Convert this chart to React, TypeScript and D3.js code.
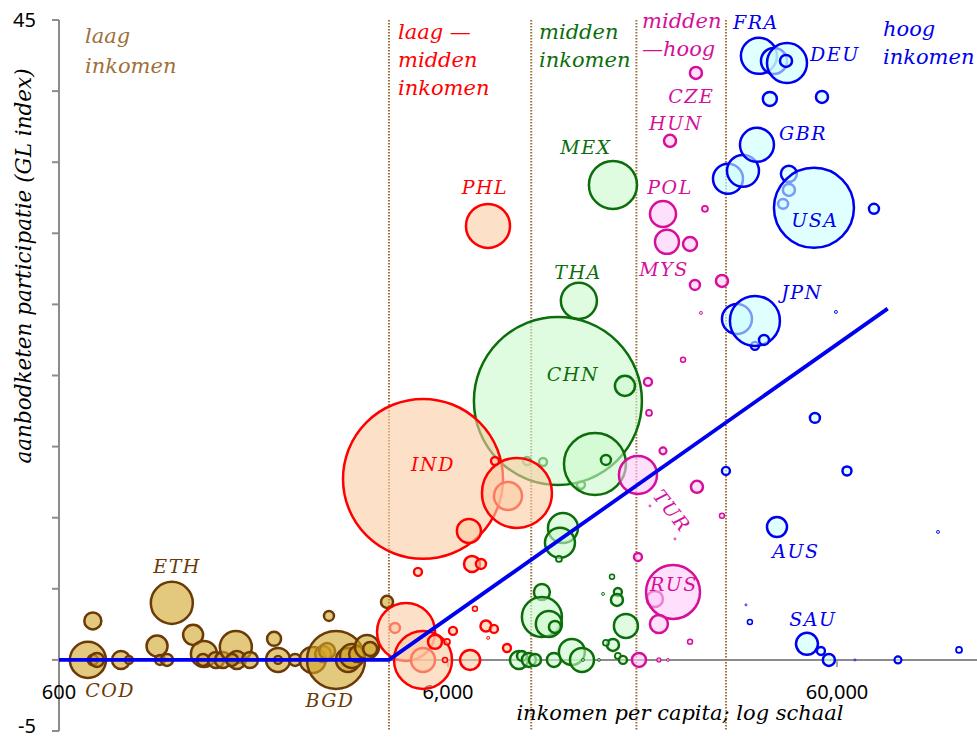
import React from "react"
import * as d3 from "d3"

// one bubble: income per capita (log axis), GL participation index, population (millions)
interface Bubble {
  inc: number
  gl: number
  pop: number
}
const b = (inc: number, gl: number, pop: number): Bubble => ({ inc, gl, pop })

const lowIncome: Bubble[] = [
  b(712, 0, 63), b(733, 2.74, 14), b(733, 0, 5), b(751, 0, 9.5), b(866, 0, 15.7),
  b(908, 0, 3.1), b(1072, 0.98, 21.4), b(1091, 0, 4.8), b(1137, 0, 7), b(1170, 4.01, 85.5),
  b(1327, 1.76, 19.4), b(1415, 0.42, 32.8), b(1407, 0, 7), b(1519, 0, 12.4), b(1584, 0, 12.4),
  b(1709, 0.91, 49.6), b(1719, 0, 15.7), b(1671, 0, 7), b(1858, 0, 12.4), b(2143, 1.48, 9.5),
  b(2194, 0, 27.9), b(2194, 0, 3.1), b(2427, 0, 7), b(2693, 0, 32.8), b(2865, 0.42, 12.4),
  b(2933, 0.63, 12.4), b(3092, 0, 163), b(3320, 0, 27.9), b(3399, 0.28, 27.9), b(3502, 0.42, 12.4),
  b(3715, 0.91, 27.9), b(3784, 0.77, 9.5), b(4182, 4.08, 7), b(2966, 3.09, 4.8),
]

const middleIncome: Bubble[] = [
  b(9576, 13.99, 3.1), b(10530, 13.92, 3.1), b(13180, 12.31, 3.1), b(11500, 18.21, 1367),
  b(17100, 19.27, 19.4), b(14320, 13.78, 186), b(15280, 14.06, 4.8), b(13020, 25.25, 63),
  b(15930, 33.4, 112), b(11850, 9.28, 43.6), b(11640, 8.23, 43.6), b(11570, 7.1, 1.7),
  b(10460, 4.78, 12.4), b(10460, 3.02, 77.5), b(10900, 2.53, 32.8), b(11300, 2.32, 7),
  b(9131, 0, 15.7), b(9296, 0.28, 4.8), b(9684, 0, 9.5), b(10040, 0, 7), b(11230, 0, 9.5),
  b(12490, 0.56, 32.8), b(13260, 0, 27.9), b(14660, 0, 0.44), b(15840, 5.84, 1.2),
  b(15020, 4.64, 0.44), b(16400, 4.78, 3.1), b(16310, 4.22, 7), b(17200, 2.39, 27.9),
  b(15930, 1.05, 7), b(15280, 1.2, 1.7), b(16400, 0.28, 1.7), b(16900, 0, 3.1), b(13340, 0, 0.44),
]

const lowerMiddleIncome: Bubble[] = [
  b(5175, 12.73, 1240), b(6790, 9.07, 27.9), b(8558, 11.53, 38), b(9024, 11.74, 237),
  b(7925, 13.99, 3.1), b(6916, 6.75, 12.4), b(7293, 6.75, 4.8), b(5023, 6.19, 3.1),
  b(7602, 30.52, 94), b(4383, 2.25, 4.8), b(4680, 1.97, 163), b(5175, 0, 27.9),
  b(5175, 0, 163), b(5556, 1.27, 9.5), b(5965, 1.27, 1.7), b(6179, 2.04, 3.1),
  b(7037, 3.59, 1.2), b(7512, 2.39, 5.9), b(7876, 2.18, 3.1), b(7612, 1.55, 0.44),
  b(8507, 0.84, 3.1), b(5894, 0, 1.2), b(6839, 0, 19.4),
]

const upperMiddleIncome: Bubble[] = [
  b(26030, 41.28, 7), b(22330, 36.5, 7), b(21420, 31.36, 32.8), b(21930, 29.4, 27.9),
  b(25140, 29.25, 9.5), b(27460, 31.72, 1.7), b(25880, 26.37, 4.8), b(30370, 26.65, 7),
  b(26820, 24.4, 0.44), b(24120, 21.1, 1.2), b(19600, 19.55, 3.1), b(19720, 17.37, 1.7),
  b(18470, 13.01, 70), b(21420, 14.7, 2.4), b(19830, 10.83, 0.2), b(22990, 8.51, 0.2),
  b(18470, 7.24, 3.1), b(26190, 12.17, 7), b(30370, 10.13, 1.2), b(20420, 4.29, 12.4),
  b(22730, 4.78, 141), b(20910, 2.53, 15.7), b(25140, 1.27, 1.2), b(18580, 0, 9.5),
  b(20910, 0, 0.8), b(22050, 0, 0.44),
]

const highIncome: Bubble[] = [
  b(37800, 42.48, 63), b(41320, 42.12, 32.8), b(44630, 41.98, 77.5), b(44370, 42.12, 7),
  b(40320, 39.45, 9.5), b(54890, 39.59, 7), b(31470, 33.83, 43.6), b(34390, 34.39, 49.6),
  b(37360, 36.22, 56), b(45130, 33.05, 7), b(43610, 32.07, 4.8), b(45130, 34.18, 12.4),
  b(52350, 31.79, 310), b(74670, 31.72, 4.8), b(33190, 23.98, 43.6), b(36910, 22.08, 3.1),
  b(36910, 23.84, 121), b(38950, 22.5, 4.8), b(59620, 24.47, 0.44), b(52650, 17.02, 4.8),
  b(31090, 13.29, 3.1), b(63650, 13.29, 3.9), b(42060, 9.35, 19.4), b(109100, 9.0, 0.44),
  b(35000, 3.87, 0.2), b(35830, 2.67, 1.2), b(50230, 1.13, 23.4), b(54560, 0.63, 3.1),
  b(57180, 0, 7), b(66720, 0, 0.2), b(86070, 0, 2.4), b(123560, 0.7, 1.7),
]

// income group borders
const incomeThresholds = [4230, 9820, 18300, 31100]

// fitted line
const fitInc = [600, 4230, 81000]
const fitGl = [0, 0, 24.7]

// axes
const yTicks = [-5, 0, 5, 10, 15, 20, 25, 30, 35, 40, 45]
const yTickLabels = [45, -5]
const xTicks = [600, 6000, 60000]
const xTickLabels = ["600", "6,000", "60,000"]

// country labels, anchored in data space
const countryLabels: { code: string; group: number; inc: number; gl: number }[] = [
  { code: "COD", group: 0, inc: 812, gl: -2.6 },
  { code: "ETH", group: 0, inc: 1207, gl: 6.1 },
  { code: "BGD", group: 0, inc: 2984, gl: -3.3 },
  { code: "IND", group: 1, inc: 5490, gl: 13.29 },
  { code: "PHL", group: 1, inc: 7468, gl: 32.77 },
  { code: "MEX", group: 2, inc: 13570, gl: 35.58 },
  { code: "THA", group: 2, inc: 12950, gl: 26.79 },
  { code: "CHN", group: 2, inc: 12570, gl: 19.62 },
  { code: "CZE", group: 3, inc: 25320, gl: 39.17 },
  { code: "HUN", group: 3, inc: 23130, gl: 37.27 },
  { code: "POL", group: 3, inc: 22330, gl: 32.77 },
  { code: "MYS", group: 3, inc: 21550, gl: 27.0 },
  { code: "TUR", group: 3, inc: 22590, gl: 10.48 },
  { code: "RUS", group: 3, inc: 22850, gl: 4.85 },
  { code: "FRA", group: 4, inc: 37130, gl: 44.37 },
  { code: "DEU", group: 4, inc: 59270, gl: 42.12 },
  { code: "GBR", group: 4, inc: 49060, gl: 36.57 },
  { code: "USA", group: 4, inc: 52650, gl: 30.45 },
  { code: "JPN", group: 4, inc: 48770, gl: 25.39 },
  { code: "AUS", group: 4, inc: 47050, gl: 7.17 },
  { code: "SAU", group: 4, inc: 52040, gl: 2.39 },
]

const groupTitles = [
  ["laag", "inkomen"],
  ["laag \u2014", "midden", "inkomen"],
  ["midden", "inkomen"],
  ["midden", "\u2014hoog"],
  ["hoog", "inkomen"],
]

const W = 977
const H = 739
const SERIF = "'DejaVu Serif', serif"
const SANS = "'Noto Sans', sans-serif"

const App: React.FC = () => {
  const x = d3.scaleLog().domain([600, 60000]).range([59, 837])
  const y = d3.scaleLinear().domain([-5, 45]).range([731, 20])
  const r = d3.scaleSqrt().domain([0, 1400]).range([0, 85])

  // colours per group: low, lower-middle, middle, upper-middle, high
  const strokes = ["#6b3a06", "#ff0000", "#0b6e0b", "#d4109a", "#0000ee"]
  const fills = ["#d0a528", "#fccba3", "#cbfacb", "#ffcbfa", "#cbffff"]
  const titleColors = ["#a0703a", "#ff0000", "#0b6e0b", "#d4109a", "#0000ee"]
  const groups = [lowIncome, lowerMiddleIncome, middleIncome, upperMiddleIncome, highIncome]
  const drawOrder = [0, 2, 1, 3, 4]

  const titlePos = [
    { x: 85, y: 43 },
    { x: 398, y: 39 },
    { x: 539, y: 39 },
    { x: 642, y: 28 },
    { x: 883, y: 36 },
  ]
  const titleLine = [30, 28, 28, 28, 28]

  const fit = d3.line<number>()
    .x((_d, i) => x(fitInc[i]))
    .y((d) => y(d))

  const strokeW = (rad: number) => (rad >= 4 ? 2.5 : Math.max(0.8, rad * 0.6))

  return (
    <svg width={W} height={H} style={{ position: "absolute", left: 0, top: 0, display: "block" }}>
      <rect width={W} height={H} fill="#fff" />

      {/* y axis */}
      <line x1={x(600)} x2={x(600)} y1={y(45)} y2={y(-5)} stroke="#8c8c8c" strokeWidth={2} />
      {yTicks.map((t) => (
        <line key={t} x1={x(600) - 7} x2={x(600)} y1={y(t)} y2={y(t)} stroke="#8c8c8c" strokeWidth={2} />
      ))}
      {yTickLabels.map((t) => (
        <text key={t} x={36} y={t < 0 ? y(t) - 5 : y(t)} dy="0.36em" textAnchor="end" fontFamily={SANS} fontSize={20} fill="#000">
          {t}
        </text>
      ))}

      {/* x axis */}
      <line x1={x(600)} x2={W} y1={y(0)} y2={y(0)} stroke="#8c8c8c" strokeWidth={2} />
      {xTicks.slice(1).map((t) => (
        <line key={t} x1={x(t)} x2={x(t)} y1={y(0)} y2={y(0) + 7} stroke="#8c8c8c" strokeWidth={1.5} />
      ))}
      {xTicks.map((t, i) => (
        <text key={t} x={x(t)} y={699} textAnchor="middle" fontFamily={SANS} fontSize={20} fill="#000">
          {xTickLabels[i]}
        </text>
      ))}

      {/* income group borders */}
      {incomeThresholds.map((t) => (
        <line key={t} x1={x(t)} x2={x(t)} y1={y(45)} y2={y(-5)}
          stroke="#a0703a" strokeWidth={2} strokeDasharray="1.5 1.5" />
      ))}

      {/* bubbles */}
      {drawOrder.map((g) => (
        <g key={g}>
          {groups[g].map((d, i) => {
            const rad = r(d.pop)
            return (
              <circle key={i} cx={x(d.inc)} cy={y(d.gl)} r={rad}
                fill={fills[g]} fillOpacity={0.6}
                stroke={strokes[g]} strokeWidth={strokeW(rad)} />
            )
          })}
        </g>
      ))}

      {/* fitted line */}
      <path d={fit(fitGl) || ""} fill="none" stroke="#0000f0" strokeWidth={3.8} strokeLinejoin="round" />

      {/* group titles */}
      {groupTitles.map((lines, g) => (
        <text key={g} fontFamily={SERIF} fontStyle="italic" fontSize={21} fill={titleColors[g]}>
          {lines.map((l, k) => (
            <tspan key={k} x={titlePos[g].x} y={titlePos[g].y + k * titleLine[g]}>{l}</tspan>
          ))}
        </text>
      ))}

      {/* country labels */}
      {countryLabels.map((c) => {
        const cx = x(c.inc)
        const cy = y(c.gl)
        const rot = c.code === "TUR" ? 52 : 0
        return (
          <text key={c.code} x={cx} y={cy} textAnchor="middle"
            dy={rot ? "0.35em" : undefined}
            transform={rot ? `rotate(${rot},${cx},${cy})` : undefined}
            fontFamily={SERIF} fontStyle="italic" fontSize={19} letterSpacing={1.5}
            fill={c.group === 0 ? "#6b3a06" : strokes[c.group]}>
            {c.code}
          </text>
        )
      })}

      {/* axis titles */}
      <text transform={`translate(31,266) rotate(-90)`} textAnchor="middle" fontFamily={SERIF}
        fontStyle="italic" fontSize={21.5} fill="#000">
        aanbodketen participatie (GL index)
      </text>
      <text x={680} y={720} textAnchor="middle" fontFamily={SERIF} fontStyle="italic" fontSize={21} fill="#000">
        inkomen per capita; log schaal
      </text>
    </svg>
  )
}

export default App
